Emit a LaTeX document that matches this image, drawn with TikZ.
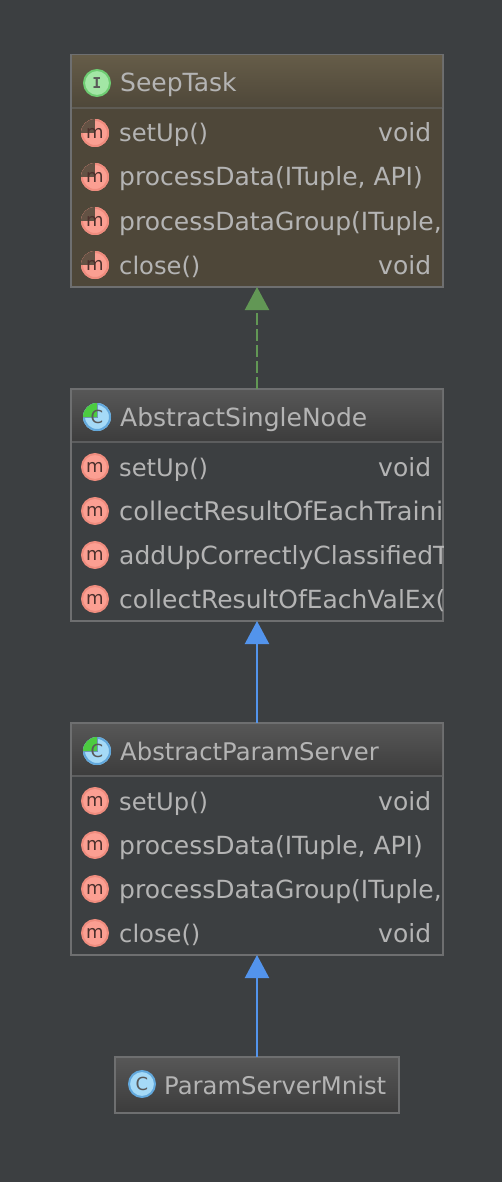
\documentclass[tikz,border=0pt]{standalone}
\usepackage{fontspec}
\setmainfont{DejaVu Sans}
\newfontfamily\iconfont{DejaVu Sans Mono}
\usetikzlibrary{arrows.meta}
\usetikzlibrary{positioning}
\definecolor{canvas}{HTML}{3C3F41}
\definecolor{edgegray}{HTML}{6E6F70}
\definecolor{labelgray}{HTML}{B4B4B4}
\definecolor{taskbody}{HTML}{4E4739}
\definecolor{tasktop}{HTML}{655C48}
\definecolor{tasksep}{HTML}{5E5B54}
\definecolor{graytop}{HTML}{575757}
\definecolor{graybot}{HTML}{3C3C3C}
\definecolor{graysep}{HTML}{5C5D5E}
\definecolor{methodpink}{HTML}{FB9F92}
\definecolor{methodring}{HTML}{EF8C7E}
\definecolor{classblue}{HTML}{A5DAF7}
\definecolor{classring}{HTML}{62A8DC}
\definecolor{ifacegreen}{HTML}{A2E6A5}
\definecolor{ifacering}{HTML}{6ECC72}
\definecolor{abstractgreen}{HTML}{4CCB40}
\definecolor{extendblue}{HTML}{5394EC}
\definecolor{implgreen}{HTML}{629755}
\tikzset{
	classbox/.style={draw=edgegray,line width=2pt,fill=canvas,minimum width=372pt,inner sep=0pt,outer sep=0pt},
	taskbox/.style={classbox,fill=taskbody},
	headtask/.style={minimum width=370pt,minimum height=52pt,inner sep=0pt,top color=tasktop,bottom color=taskbody},
	headgray/.style={minimum width=370pt,minimum height=52pt,inner sep=0pt,top color=graytop,bottom color=graybot},
	title/.style={text=labelgray,font=\fontsize{25}{25}\selectfont,anchor=base west,inner sep=0pt},
	titlefit/.style={title,font=\fontsize{24.3}{25}\selectfont},
	member/.style={text=labelgray,font=\fontsize{25}{25}\selectfont,anchor=base west,inner sep=0pt},
	memberfit/.style={member,font=\fontsize{24.2}{25}\selectfont},
	memberwide/.style={member,font=\fontsize{25.7}{25}\selectfont},
	icon/.style={circle,inner sep=0pt,minimum size=26pt,line width=2pt,text=black!65},
	iconm/.style={icon,draw=methodring,fill=methodpink,text=methodpink!30!black,font=\fontsize{18}{18}\selectfont},
	iconhalf/.style={icon,fill=methodpink,minimum size=28pt,text=methodpink!30!black,font=\fontsize{18}{18}\selectfont,path picture={
		\draw[methodring,line width=4pt] (path picture bounding box.center) circle (14pt);
		\fill[taskbody!88!methodpink] (path picture bounding box.center) rectangle (path picture bounding box.north west);}},
	iconc/.style={icon,draw=classring,fill=classblue,font=\fontsize{18}{18}\selectfont},
	iconabs/.style={icon,fill=classblue,minimum size=28pt,font=\fontsize{18}{18}\selectfont,path picture={
		\draw[classring,line width=4pt] (path picture bounding box.center) circle (14pt);
		\fill[abstractgreen] (path picture bounding box.center) rectangle (path picture bounding box.north west);
		\draw[classring!60!gray,line width=1pt] (path picture bounding box.north) -- (path picture bounding box.center) -- (path picture bounding box.west);}},
	iconi/.style={icon,draw=ifacering,fill=ifacegreen,font=\iconfont\bfseries\fontsize{15}{15}\selectfont},
	extends/.style={extendblue,line width=2.2pt,-{Triangle[length=23pt,width=24pt]}},
	implements/.style={implgreen,line width=2.2pt,dash pattern=on 12pt off 4pt,-{Triangle[length=23pt,width=24pt]}}
}
\begin{document}
\begin{tikzpicture}[x=1pt,y=-1pt]
	\useasboundingbox[fill=canvas] (0,0) rectangle (502,1182);
	% SeepTask
	\node[taskbox,minimum height=232pt] (seeptask) at (257,171) {};
	\node[headtask] (seephead) at (257,82) {};
	\draw[tasksep,line width=2pt] (seephead.south west) -- (seephead.south east);
	\node[iconi] (seepicon) at (97,83) {I};
	\node[title] (seepname) at (120,92) {SeepTask};
	\begin{scope}
		\clip (72,110) rectangle (443,286);
		\node[iconhalf] (seepm1) at (95,133) {m};
		\node[memberfit] (seeprow1) at (119,142) {setUp()};
		\node[member] (seepvoid1) at (378,142) {void};
		\node[iconhalf] (seepm2) at (95,177) {m};
		\node[member] (seeprow2) at (119,186) {processData(ITuple, API)};
		\node[iconhalf] (seepm3) at (95,221) {m};
		\node[member] (seeprow3) at (119,230) {processDataGroup(ITuple,};
		\node[iconhalf] (seepm4) at (95,265) {m};
		\node[memberfit] (seeprow4) at (119,274) {close()};
		\node[member] (seepvoid4) at (378,274) {void};
	\end{scope}
	% AbstractSingleNode
	\node[classbox,minimum height=232pt] (singlenode) at (257,505) {};
	\node[headgray] (singlehead) at (257,416) {};
	\draw[graysep,line width=2pt] (singlehead.south west) -- (singlehead.south east);
	\node[iconabs] (singleicon) at (97,417) {C};
	\node[title] (singlename) at (120,426) {AbstractSingleNode};
	\begin{scope}
		\clip (72,444) rectangle (443,620);
		\node[iconm] (singlem1) at (95,467) {m};
		\node[memberfit] (singlerow1) at (119,476) {setUp()};
		\node[member] (singlevoid1) at (378,476) {void};
		\node[iconm] (singlem2) at (95,511) {m};
		\node[memberwide] (singlerow2) at (119,520) {collectResultOfEachTraini};
		\node[iconm] (singlem3) at (95,555) {m};
		\node[member] (singlerow3) at (119,564) {addUpCorrectlyClassifiedT};
		\node[iconm] (singlem4) at (95,599) {m};
		\node[member] (singlerow4) at (119,608) {collectResultOfEachValEx(};
	\end{scope}
	% AbstractParamServer
	\node[classbox,minimum height=232pt] (paramserver) at (257,839) {};
	\node[headgray] (paramhead) at (257,750) {};
	\draw[graysep,line width=2pt] (paramhead.south west) -- (paramhead.south east);
	\node[iconabs] (paramicon) at (97,751) {C};
	\node[titlefit] (paramname) at (120,760) {AbstractParamServer};
	\begin{scope}
		\clip (72,778) rectangle (443,954);
		\node[iconm] (paramm1) at (95,801) {m};
		\node[memberfit] (paramrow1) at (119,810) {setUp()};
		\node[member] (paramvoid1) at (378,810) {void};
		\node[iconm] (paramm2) at (95,845) {m};
		\node[member] (paramrow2) at (119,854) {processData(ITuple, API)};
		\node[iconm] (paramm3) at (95,889) {m};
		\node[member] (paramrow3) at (119,898) {processDataGroup(ITuple,};
		\node[iconm] (paramm4) at (95,933) {m};
		\node[memberfit] (paramrow4) at (119,942) {close()};
		\node[member] (paramvoid4) at (378,942) {void};
	\end{scope}
	% ParamServerMnist
	\node[classbox,minimum width=284pt,minimum height=56pt,top color=graytop,bottom color=graybot] (mnist) at (257,1085) {};
	\node[iconc] (mnisticon) at (142,1084) {C};
	\node[titlefit] (mnistname) at (164,1094) {ParamServerMnist};
	% arrows
	\draw[implements] (singlenode.north) -- (seeptask.south);
	\draw[extends] (paramserver.north) -- (singlenode.south);
	\draw[extends] (mnist.north) -- (paramserver.south);
\end{tikzpicture}
\end{document}
